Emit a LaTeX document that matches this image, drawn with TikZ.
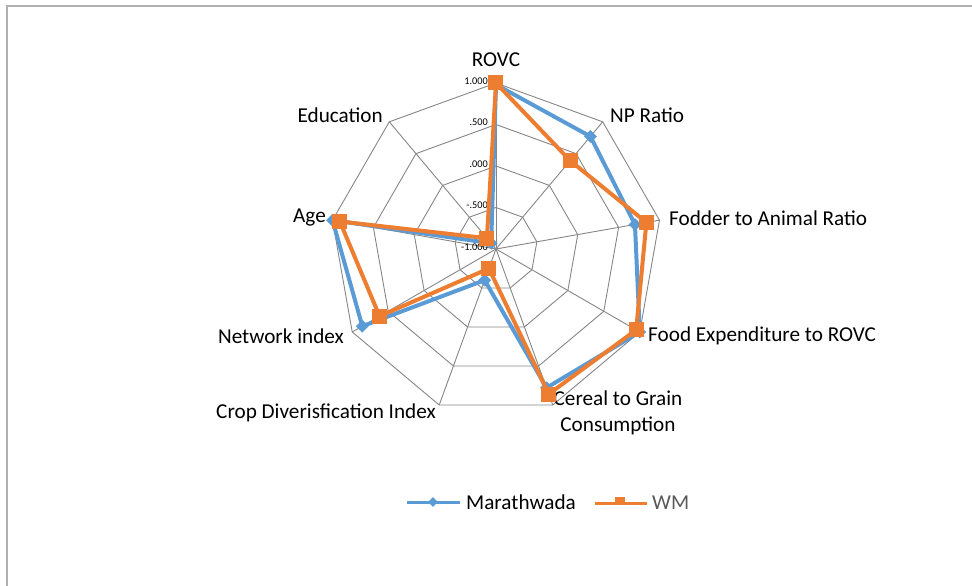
\documentclass[tikz,border=0pt]{standalone}
\usepackage{fontspec}
\setmainfont{Carlito}
\usetikzlibrary{positioning,shapes.geometric}
\definecolor{mblue}{RGB}{91,155,213}
\definecolor{wmorange}{RGB}{237,125,49}
\definecolor{webgray}{RGB}{134,134,134}
\definecolor{framegray}{RGB}{176,176,176}
\tikzstyle{web}=[
  draw=webgray,
  line width=0.9pt,
]
\tikzstyle{mline}=[
  draw=mblue,
  line width=4pt,
  line join=round,
]
\tikzstyle{wmline}=[
  draw=wmorange,
  line width=4pt,
  line join=miter,
]
\tikzset{
  mdot/.style={diamond, fill=mblue, inner sep=0pt, minimum size=13pt},
  wmdot/.style={rectangle, fill=wmorange, inner sep=0pt, minimum size=15pt},
  axlabel/.style={font=\fontsize{21.2}{26}\selectfont, inner sep=1pt},
  ticklabel/.style={font=\fontsize{10.3}{12}\selectfont, anchor=east, inner sep=1pt},
}

\begin{document}
\begin{tikzpicture}[x=1pt,y=1pt]
  \useasboundingbox (-496,-337) rectangle (476,249);
  \draw[framegray, line width=1.6pt] (-489,-337) -- (-489,243) -- (476,243);

  % web: rings and spokes
  \foreach \k in {1,...,4}
    \draw[web] (90:{\k*41.5}) \foreach \a in {50,10,...,-230} { -- (\a:{\k*41.5}) } -- cycle;
  \foreach \a in {90,50,...,-230}
    \draw[web] (0,0) -- (\a:166);

  % scale
  \foreach \t [count=\k from 0] in {-1.000,-.500,.000,.500,1.000}
    \node[ticklabel] (t\k) at (-7,{\k*41.5+2}) {\t};

  % axis labels
  \node[axlabel] (rovc) at (0,189) {ROVC};
  \node[axlabel, anchor=west] (np) at (113,134) {NP Ratio};
  \node[axlabel, anchor=west] (fodder) at (172,31) {Fodder to Animal Ratio};
  \node[axlabel, anchor=west] (food) at (151,-87) {Food Expenditure to ROVC};
  \node[axlabel, align=center] (cereal) at (122,-164) {Cereal to Grain\\Consumption};
  \node[axlabel, anchor=east] (crop) at (-59,-164) {Crop Diverisfication Index};
  \node[axlabel, anchor=east] (network) at (-151,-87) {Network index};
  \node[axlabel, anchor=east] (age) at (-169,31) {Age};
  \node[axlabel, anchor=east] (edu) at (-112,134) {Education};

  % Marathwada
  \foreach \v [count=\i] in {0.98,0.77,0.70,1.00,0.78,-0.60,0.86,1.00,-0.91}
    \coordinate (m\i) at ({130-40*\i}:{(\v+1)*83});
  \draw[mline] (m1) \foreach \i in {2,...,9} { -- (m\i) } -- cycle;
  \foreach \i in {1,...,9}
    \node[mdot] (md\i) at (m\i) {};

  % WM
  \foreach \v [count=\i] in {1.00,0.39,0.84,0.95,0.86,-0.75,0.62,0.91,-0.83}
    \coordinate (w\i) at ({130-40*\i}:{(\v+1)*83});
  \draw[wmline] (w1) \foreach \i in {2,...,9} { -- (w\i) } -- cycle;
  \foreach \i in {1,...,9}
    \node[wmdot] (wd\i) at (w\i) {};

  % legend
  \coordinate (la) at (-89,-253);
  \coordinate (lb) at (-36,-253);
  \draw[mblue, line width=3pt] (la) -- (lb);
  \node[mdot, minimum size=10pt] (lm) at (-63,-253) {};
  \node[axlabel, anchor=west] (lmtext) at (-31,-253) {Marathwada};
  \coordinate (lc) at (99,-254);
  \coordinate (ld) at (151,-254);
  \draw[wmorange, line width=3pt] (lc) -- (ld);
  \node[fill=wmorange, inner sep=0pt, minimum width=10pt, minimum height=5pt] (lw) at (124,-250.5) {};
  \node[axlabel, anchor=west, text=black!65] (lwtext) at (155,-254) {WM};
\end{tikzpicture}
\end{document}
